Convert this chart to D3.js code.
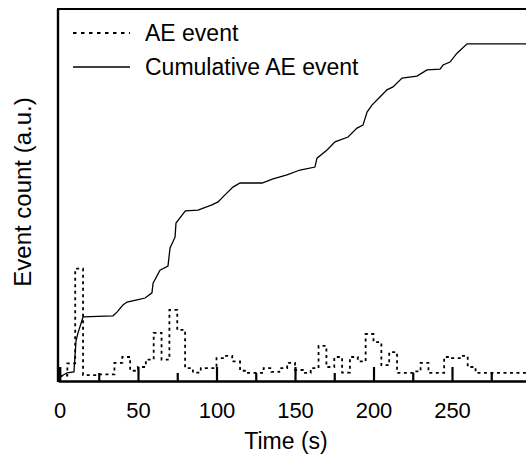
<!DOCTYPE html>
<html>
<head>
<meta charset="utf-8">
<script src="https://cdn.jsdelivr.net/npm/d3@7"></script>
<style>
    body { margin: 0; background: #fff; }
    text { font-family: "Liberation Sans", Arial, sans-serif; fill: #000; }
</style>
</head>
<body>
<svg id="svg"></svg>
<script>
// AE event counts per 5 s bin (bin start times in s)
const binStarts = [0, 5, 10, 15, 20, 25, 30, 35, 40, 45, 50, 55, 60, 65, 70, 75, 80, 85, 90, 95,
    100, 105, 110, 115, 120, 125, 130, 135, 140, 145, 150, 155, 160, 165, 170, 175, 180, 185, 190, 195,
    200, 205, 210, 215, 220, 225, 230, 235, 240, 245, 250, 255, 260, 265, 270, 275, 280, 285, 290, 295, 300];
const aeCounts = [1.2, 4.5, 30, 1.3, 1.3, 1.5, 1.5, 4.6, 6.2, 2.5, 3.5, 5.5, 12.7, 5.5, 18.9, 13.5, 3.2, 2, 3.2, 3.2,
    5.9, 6.5, 5, 2.5, 1.9, 1.9, 3.2, 2.2, 3.2, 4.6, 2.7, 1.9, 3.2, 9.2, 3.5, 6.2, 2, 6.2, 5, 12.4,
    10.2, 4, 7.5, 1.9, 1.9, 2.3, 4.6, 1.9, 1.9, 6.2, 5.9, 6.5, 3.5, 1.9, 1.9, 1.9, 1.9, 1.9, 1.9, 1.9, 1.9];

// cumulative AE event curve
const cumTimes = [0, 2.2, 4.8, 9.2, 10.5, 11.8, 15.0, 34.1, 36.6, 40.4, 43.0, 49.4, 54.5, 58.9, 59.6, 64.0,
    69.1, 70.4, 73.6, 74.2, 78.2, 80.2, 88.2, 97.1, 101.0, 105.4, 110.5, 115.0, 129.0, 136.0, 144.9,
    153.2, 162.7, 164.0, 170.4, 175.5, 183.8, 189.5, 193.3, 195.9, 199.0, 204.1, 208.6, 212.4, 218.2,
    227.7, 234.1, 242.4, 244.3, 248.7, 253.2, 259.6, 300];
const cumCounts = [0.5, 1.3, 1.9, 2.2, 10.5, 12.7, 17.0, 17.3, 18.3, 20.2, 21.0, 21.6, 22.1, 23.5, 26.1, 29.6,
    30.7, 35.6, 38.5, 42.3, 44.5, 45.6, 45.8, 47.2, 48.0, 49.9, 52.0, 53.1, 53.1, 54.2, 55.3,
    56.6, 57.4, 59.8, 62.0, 64.2, 65.5, 67.9, 68.7, 72.2, 74.1, 76.3, 78.2, 79.0, 81.4,
    81.9, 83.6, 83.8, 84.9, 85.7, 88.1, 90.6, 90.6];

const tickValues = [0, 50, 100, 150, 200, 250];
const minorTickValues = [25, 75, 125, 175, 225, 275];
const legendLabels = ["AE event", "Cumulative AE event"];

const width = 526;
const height = 457;

let svg = d3.select("#svg")
    .attr("width", width)
    .attr("height", height);

let xScale = d3.scaleLinear().domain([0, 300]).range([59.5, 530.5]);
let yScale = d3.scaleLinear().domain([0, 100]).range([380, 9]);

let aeData = binStarts.map((t, i) => ({ t: t, v: aeCounts[i] }));
let cumData = cumTimes.map((t, i) => ({ t: t, v: cumCounts[i] }));

// frame (top + left), the right side falls outside the picture
svg.append("line")
    .attr("x1", 57).attr("x2", width)
    .attr("y1", yScale(100)).attr("y2", yScale(100))
    .attr("stroke", "#000").attr("stroke-width", 2.2);
svg.append("line")
    .attr("x1", 58).attr("x2", 58)
    .attr("y1", yScale(100)).attr("y2", 382)
    .attr("stroke", "#000").attr("stroke-width", 2.4);

// dotted step line for AE events
svg.append("path")
    .datum(aeData)
    .attr("fill", "none")
    .attr("stroke", "#000")
    .attr("stroke-width", 1.8)
    .attr("stroke-dasharray", "3,3.5")
    .attr("d", d3.line()
        .x(d => xScale(d.t))
        .y(d => yScale(d.v))
        .curve(d3.curveStepAfter));

// cumulative curve
svg.append("path")
    .datum(cumData)
    .attr("fill", "none")
    .attr("stroke", "#000")
    .attr("stroke-width", 1.3)
    .attr("d", d3.line()
        .x(d => xScale(d.t))
        .y(d => yScale(d.v)));

// x axis with inward ticks
let xAxis = svg.append("g")
    .attr("transform", "translate(0,381)")
    .call(d3.axisBottom(xScale)
        .tickValues(tickValues)
        .tickSize(-14)
        .tickPadding(21)
        .tickFormat(d3.format("d")));
xAxis.select(".domain").attr("stroke-width", 2.6);
xAxis.selectAll(".tick line").attr("stroke-width", 2.2);
xAxis.selectAll(".tick text")
    .style("font-size", "22px")
    .attr("font-family", null);

svg.append("g")
    .attr("transform", "translate(0,381)")
    .call(d3.axisBottom(xScale)
        .tickValues(minorTickValues)
        .tickSize(-8)
        .tickFormat(""))
    .call(g => g.select(".domain").remove())
    .selectAll(".tick line").attr("stroke-width", 2.2);

// axis titles
svg.append("text")
    .attr("x", 286)
    .attr("y", 449)
    .attr("text-anchor", "middle")
    .style("font-size", "23px")
    .text("Time (s)");

svg.append("text")
    .attr("transform", "translate(31,192) rotate(-90)")
    .attr("text-anchor", "middle")
    .style("font-size", "24px")
    .text("Event count (a.u.)");

// legend
let legend = svg.append("g");
legendLabels.forEach((label, i) => {
    let y = 33 + i * 34;
    legend.append("line")
        .attr("x1", 73).attr("x2", 130)
        .attr("y1", y).attr("y2", y)
        .attr("stroke", "#000")
        .attr("stroke-width", i === 0 ? 1.8 : 1.3)
        .attr("stroke-dasharray", i === 0 ? "3.5,4.5" : null);
    legend.append("text")
        .attr("x", 145)
        .attr("y", y + 8)
        .style("font-size", "23px")
        .text(label);
});
</script>
</body>
</html>
